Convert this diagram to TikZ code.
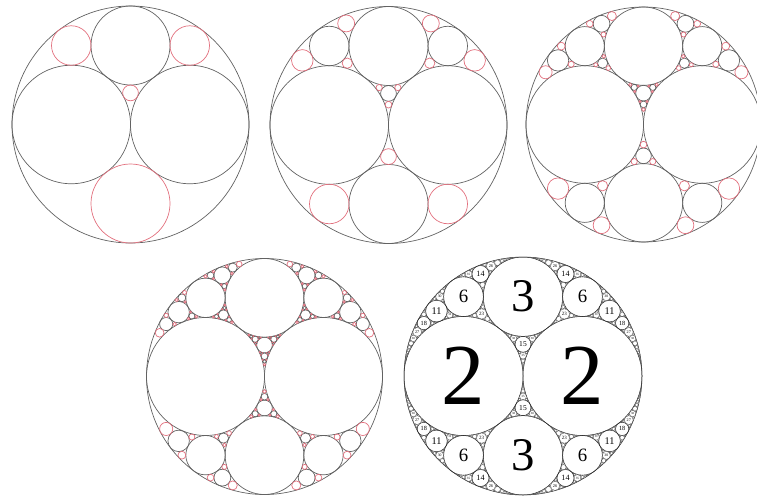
\documentclass[tikz,border=0pt]{standalone}
\usepackage{fontspec}
\setmainfont{Liberation Serif}
\definecolor{apgray}{HTML}{626262}
\definecolor{apred}{HTML}{E2707E}
\tikzset{
  oldcirc/.style={draw=apgray, line width=0.7pt},
  newcirc/.style={draw=apred, line width=0.7pt},
  fullcirc/.style={draw=black!85, line width=0.5pt},
  smallcirc/.style={draw=black!65, line width=0.3pt},
  numlabel/.style={inner sep=0pt, text=black},
}
\def\apK#1#2#3{#1}
\def\apA#1#2#3{#2}
\def\apB#1#2#3{#3}
\def\apreflect#1#2#3#4{%
  \edef\apres{{\the\numexpr 2*((\apK#1)+(\apK#2)+(\apK#3))-(\apK#4)\relax}%
    {\the\numexpr 2*((\apA#1)+(\apA#2)+(\apA#3))-(\apA#4)\relax}%
    {\the\numexpr 2*((\apB#1)+(\apB#2)+(\apB#3))-(\apB#4)\relax}}}
\def\apdrawcirc#1#2{%
  \edef\apk{\apK#1}\edef\apa{\apA#1}\edef\apb{\apB#1}%
  \pgfmathsetmacro\apx{\apcx+\apR*(\apa/\apk)}%
  \pgfmathsetmacro\apy{\apcy-\apR*(\apb/\apk)}%
  \pgfmathsetmacro\apr{\apR/\apk}%
  \ifnum\apmode=1
    \ifnum#2=\apmaxgen\relax
      \draw[newcirc] (\apx,\apy) circle[radius=\apr];
    \else
      \draw[oldcirc] (\apx,\apy) circle[radius=\apr];
    \fi
  \else
    \ifnum\apk<20
      \draw[fullcirc] (\apx,\apy) circle[radius=\apr];
    \else
      \draw[smallcirc] (\apx,\apy) circle[radius=\apr];
    \fi
    \ifnum\apk<41
      \ifnum\apk=2 \def\apf{1.46}\else\ifnum\apk=3 \def\apf{1.18}\else\def\apf{0.95}\fi\fi
      \pgfmathsetmacro\apfs{\apf*\apr}%
      \node[numlabel, font=\fontsize{\apfs pt}{\apfs pt}\selectfont] (lab) at (\apx,\apy) {\apk};
    \fi
  \fi}
\def\apgen#1#2#3#4#5{%
  \ifnum\apK#1>\apmaxk\relax\else
  \ifnum#5>\apmaxgen\relax\else
    \begingroup
    \apdrawcirc{#1}{#5}%
    \apreflect{#1}{#2}{#3}{#4}\let\apci\apres
    \apreflect{#1}{#3}{#4}{#2}\let\apcii\apres
    \apreflect{#1}{#2}{#4}{#3}\let\apciii\apres
    \edef\apnext{%
      \noexpand\apgen{\apci}{#1}{#2}{#3}{\the\numexpr#5+1\relax}%
      \noexpand\apgen{\apcii}{#1}{#3}{#4}{\the\numexpr#5+1\relax}%
      \noexpand\apgen{\apciii}{#1}{#2}{#4}{\the\numexpr#5+1\relax}}%
    \apnext
    \endgroup
  \fi\fi}
% #1 cx, #2 cy, #3 R, #4 max generation, #5 mode, #6 max curvature
\newcommand\appanel[6]{%
  \begingroup
  \def\apcx{#1}\def\apcy{#2}\def\apR{#3}\def\apmaxgen{#4}\def\apmode{#5}\def\apmaxk{#6}%
  \ifnum#5=1
    \draw[oldcirc] (#1,#2) circle[radius=#3];
  \else
    \draw[fullcirc] (#1,#2) circle[radius=#3];
  \fi
  \apdrawcirc{{2}{-1}{0}}{0}%
  \apdrawcirc{{2}{1}{0}}{0}%
  \apdrawcirc{{3}{0}{2}}{0}%
  \apgen{{15}{0}{4}}{{2}{-1}{0}}{{2}{1}{0}}{{3}{0}{2}}{1}%
  \apgen{{6}{3}{4}}{{-1}{0}{0}}{{2}{1}{0}}{{3}{0}{2}}{1}%
  \apgen{{6}{-3}{4}}{{-1}{0}{0}}{{2}{-1}{0}}{{3}{0}{2}}{1}%
  \apgen{{3}{0}{-2}}{{-1}{0}{0}}{{2}{-1}{0}}{{2}{1}{0}}{1}%
  \endgroup}
\begin{document}
\begin{tikzpicture}[x=1pt,y=-1pt]
\useasboundingbox (0,0) rectangle (757,498);
\clip (0,0) rectangle (757,498);
\appanel{130.5}{124.5}{118.5}{1}{1}{3000}
\appanel{388.5}{125}{118.5}{2}{1}{3000}
\appanel{643.5}{124.5}{117.5}{3}{1}{3000}
\appanel{264.5}{376.5}{118}{4}{1}{3000}
\appanel{523}{376}{119}{100}{2}{260}
\end{tikzpicture}
\end{document}
